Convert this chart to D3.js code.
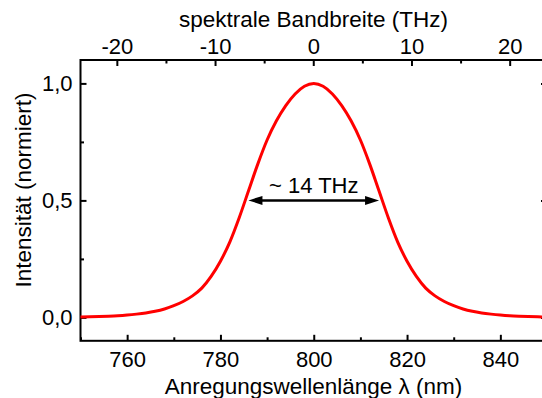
<!DOCTYPE html>
<html>
<head>
<meta charset="utf-8">
<script src="https://cdn.jsdelivr.net/npm/d3@7"></script>
<style>
  html, body { margin: 0; padding: 0; background: #fff; }
  svg { display: block; font-family: "Liberation Sans", Arial, sans-serif; }
</style>
</head>
<body>
<svg id="chart" width="542" height="398"></svg>
<script>
// ---- data ----
const wavelengths = [750,752,754,756,758,760,762,764,766,768,770,772,774,776,778,780,782,784,786,788,790,792,794,796,798,800,
                     802,804,806,808,810,812,814,816,818,820,822,824,826,828,830,832,834,836,838,840,842,844,846,848,850];
const intensity = [0.0018,0.0025,0.0035,0.005,0.007,0.010,0.014,0.019,0.026,0.036,0.050,0.068,0.092,0.125,0.175,0.240,0.322,0.425,0.540,0.655,0.758,0.840,0.905,0.955,0.988,1.000,
                   0.988,0.955,0.905,0.840,0.758,0.655,0.540,0.425,0.322,0.240,0.175,0.125,0.092,0.068,0.050,0.036,0.026,0.019,0.014,0.010,0.007,0.005,0.0035,0.0025,0.0018];
const xMajorTicks = [760, 780, 800, 820, 840];
const xMinorTicks = [750, 770, 790, 810, 830, 850];
const topMajorTicks = [-20, -10, 0, 10, 20];
const topMinorTicks = [-15, -5, 5, 15];
const yMajorTicks = [0.0, 0.5, 1.0];
const yMinorTicks = [0.25, 0.75];
const arrowFrom = 786, arrowTo = 814, arrowLevel = 0.5;
const arrowLabel = "~ 14 THz";
const xTitle = "Anregungswellenlänge λ (nm)";
const topTitle = "spektrale Bandbreite (THz)";
const yTitle = "Intensität (normiert)";

// ---- layout ----
const L = 80.5, R = 547, T = 60, B = 340.8;
const svg = d3.select("#chart");
const x = d3.scaleLinear().domain([750, 850]).range([L, R]);
const xTop = d3.scaleLinear().domain([-23.7, 23.8]).range([L, R]);
const y = d3.scaleLinear().domain([-0.1, 1.1]).range([B, T]);

const loc = d3.formatLocale({decimal: ",", thousands: ".", grouping: [3], currency: ["", ""], minus: "-"});
const fy = loc.format(".1f");
const fi = loc.format("d");

const tickFont = "22px";
const titleFont = "22.5px";

function style(g) {
  g.select(".domain").remove();
  g.selectAll(".tick line").attr("stroke", "#000").attr("stroke-width", 2);
  g.selectAll(".tick text").attr("fill", "#000").attr("font-size", tickFont)
    .attr("font-family", "Liberation Sans, Arial, sans-serif");
}

// bottom axis
svg.append("g").attr("transform", `translate(0,${B})`)
  .call(d3.axisBottom(x).tickValues(xMajorTicks).tickSize(-6).tickPadding(11).tickFormat(fi)).call(style);
svg.append("g").attr("transform", `translate(0,${B})`)
  .call(d3.axisBottom(x).tickValues(xMinorTicks).tickSize(-3.5).tickFormat("")).call(style);
// top axis
svg.append("g").attr("transform", `translate(0,${T})`)
  .call(d3.axisTop(xTop).tickValues(topMajorTicks).tickSize(-6).tickPadding(6).tickFormat(fi)).call(style);
svg.append("g").attr("transform", `translate(0,${T})`)
  .call(d3.axisTop(xTop).tickValues(topMinorTicks).tickSize(-3.5).tickFormat("")).call(style);
// left axis
svg.append("g").attr("transform", `translate(${L},0)`)
  .call(d3.axisLeft(y).tickValues(yMajorTicks).tickSize(-6).tickPadding(8).tickFormat(fy)).call(style);
svg.append("g").attr("transform", `translate(${L},0)`)
  .call(d3.axisLeft(y).tickValues(yMinorTicks).tickSize(-3.5).tickFormat("")).call(style);
// right axis
svg.append("g").attr("transform", `translate(${R},0)`)
  .call(d3.axisRight(y).tickValues(yMajorTicks).tickSize(-6).tickFormat("")).call(style);
svg.append("g").attr("transform", `translate(${R},0)`)
  .call(d3.axisRight(y).tickValues(yMinorTicks).tickSize(-3.5).tickFormat("")).call(style);

// frame
svg.append("rect").attr("x", L).attr("y", T).attr("width", R - L).attr("height", B - T)
  .attr("fill", "none").attr("stroke", "#000").attr("stroke-width", 2);

// curve
const line = d3.line().x((d, i) => x(wavelengths[i])).y(d => y(d)).curve(d3.curveMonotoneX);
svg.append("path").datum(intensity).attr("d", line)
  .attr("fill", "none").attr("stroke", "#ff0000").attr("stroke-width", 3);

// arrow
const ax1 = x(arrowFrom), ax2 = x(arrowTo), ay = y(arrowLevel);
const hl = 14, hw = 4.5;
svg.append("line").attr("x1", ax1 + hl - 2).attr("x2", ax2 - hl + 2).attr("y1", ay).attr("y2", ay)
  .attr("stroke", "#000").attr("stroke-width", 2.5);
svg.append("path").attr("d", `M${ax1},${ay} L${ax1 + hl},${ay - hw} L${ax1 + hl},${ay + hw} Z`).attr("fill", "#000");
svg.append("path").attr("d", `M${ax2},${ay} L${ax2 - hl},${ay - hw} L${ax2 - hl},${ay + hw} Z`).attr("fill", "#000");
svg.append("text").attr("x", x(800)).attr("y", ay - 7).attr("text-anchor", "middle")
  .attr("font-size", "22px").attr("fill", "#000").text(arrowLabel);

// titles
svg.append("text").attr("x", 313.5).attr("y", 394).attr("text-anchor", "middle")
  .attr("font-size", titleFont).attr("fill", "#000").text(xTitle);
svg.append("text").attr("x", 313.5).attr("y", 27).attr("text-anchor", "middle")
  .attr("font-size", titleFont).attr("fill", "#000").text(topTitle);
svg.append("text").attr("transform", "translate(31,190) rotate(-90)").attr("text-anchor", "middle")
  .attr("font-size", titleFont).attr("fill", "#000").text(yTitle);
</script>
</body>
</html>
